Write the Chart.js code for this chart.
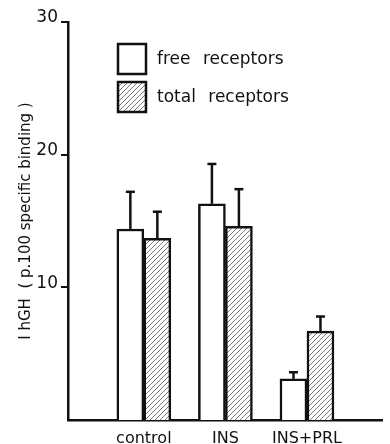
<!DOCTYPE html>
<html>
<head>
<meta charset="utf-8">
<script src="https://cdn.jsdelivr.net/npm/chart.js@4.4.1/dist/chart.umd.min.js"></script>
<style>
  html, body { margin: 0; padding: 0; background: #fff; }
</style>
</head>
<body>
<canvas id="bindingChart" width="390" height="444"></canvas>
<script>
// Treatment groups, placed at 1, 2, 3 on the x axis
const groups = ["control", "INS", "INS+PRL"];
const groupPos = [1, 2, 3];
// Mean binding (p.100 specific binding)
const freeReceptors = [14.4, 16.3, 3.1];
const totalReceptors = [13.7, 14.6, 6.7];
// Height of the error bar above each mean
const freeError = [2.8, 3.0, 0.5];
const totalError = [2.0, 2.8, 1.1];
// Labelled ticks on the y axis
const yTicks = [10, 20, 30];

const ink = "#111";

// Diagonal hatching for the total receptors bars
function makeHatch() {
  const c = document.createElement("canvas");
  c.width = 5; c.height = 5;
  const g = c.getContext("2d");
  g.fillStyle = "#fff";
  g.fillRect(0, 0, 5, 5);
  g.strokeStyle = "#7a7a7a";
  g.lineWidth = 1;
  g.beginPath();
  g.moveTo(0, 5); g.lineTo(5, 0);
  g.moveTo(-1, 1); g.lineTo(1, -1);
  g.moveTo(4, 6); g.lineTo(6, 4);
  g.stroke();
  return g.createPattern(c, "repeat");
}

// Error bars: a stem from the bar top up to a short cap
const errorBars = {
  id: "errorBars",
  afterDatasetsDraw(chart) {
    const ctx = chart.ctx;
    const y = chart.scales.y;
    const errs = [freeError, totalError];
    ctx.save();
    ctx.strokeStyle = ink;
    chart.data.datasets.forEach((ds, di) => {
      chart.getDatasetMeta(di).data.forEach((bar, i) => {
        const top = y.getPixelForValue(ds.data[i].y + errs[di][i]);
        ctx.lineWidth = 2.5;
        ctx.beginPath();
        ctx.moveTo(bar.x, bar.y);
        ctx.lineTo(bar.x, top);
        ctx.stroke();
        ctx.lineWidth = 2.5;
        ctx.beginPath();
        ctx.moveTo(bar.x - 4.5, top);
        ctx.lineTo(bar.x + 4.5, top);
        ctx.stroke();
      });
    });
    ctx.restore();
  }
};

// Legend drawn inside the plot, boxes stacked under each other
const boxLegend = {
  id: "boxLegend",
  afterDraw(chart) {
    const ctx = chart.ctx;
    const a = chart.chartArea;
    ctx.save();
    chart.data.datasets.forEach((ds, i) => {
      const bx = a.left + 50;
      const by = a.top + 22 + i * 38;
      ctx.fillStyle = ds.backgroundColor;
      ctx.fillRect(bx, by, 28, 30);
      ctx.lineWidth = 2.5;
      ctx.strokeStyle = ink;
      ctx.strokeRect(bx, by, 28, 30);
      ctx.fillStyle = ink;
      ctx.font = "17px 'DejaVu Sans'";
      ctx.textBaseline = "middle";
      ctx.wordSpacing = "7px";
      ctx.fillText(ds.label, bx + 39, by + 16);
    });
    ctx.restore();
  }
};

const ctx = document.getElementById("bindingChart").getContext("2d");
new Chart(ctx, {
  type: "bar",
  data: {
    datasets: [
      {
        label: "free receptors",
        data: groupPos.map((x, i) => ({ x: x, y: freeReceptors[i] })),
        backgroundColor: "#fff",
        borderColor: ink,
        borderWidth: 2.5,
        barThickness: 27
      },
      {
        label: "total receptors",
        data: groupPos.map((x, i) => ({ x: x, y: totalReceptors[i] })),
        backgroundColor: makeHatch(),
        borderColor: ink,
        borderWidth: 2.5,
        barThickness: 27
      }
    ]
  },
  options: {
    responsive: false,
    animation: false,
    devicePixelRatio: 1,
    layout: { padding: { left: 0, top: 22, right: 8, bottom: 0 } },
    plugins: {
      legend: { display: false },
      tooltip: { enabled: false }
    },
    scales: {
      x: {
        type: "linear",
        offset: false,
        min: 0.07,
        max: 3.92,
        afterBuildTicks: (s) => { s.ticks = groupPos.map(v => ({ value: v })); },
        afterFit: (s) => { s.height = 24; },
        grid: { display: false, offset: false },
        border: { display: true, color: ink, width: 2.5 },
        ticks: {
          padding: 1,
          color: ink,
          font: { family: "DejaVu Sans", size: 16 },
          callback: (v) => groups[groupPos.indexOf(v)]
        }
      },
      y: {
        min: 0,
        max: 30,
        afterBuildTicks: (s) => { s.ticks = yTicks.map(v => ({ value: v })); },
        afterFit: (s) => { s.width = 68; },
        grid: { drawOnChartArea: false, drawTicks: true, tickLength: 7, color: ink, lineWidth: 2 },
        border: { display: true, color: ink, width: 2.5 },
        ticks: {
          padding: 3,
          labelOffset: -4,
          color: ink,
          font: { family: "DejaVu Sans", size: 17 }
        },
        title: {
          display: true,
          text: "I hGH  ( p.100 specific binding )",
          color: ink,
          font: { family: "DejaVu Sans", size: 15 },
          padding: { top: 17, bottom: 0 }
        }
      }
    }
  },
  plugins: [errorBars, boxLegend]
});
</script>
</body>
</html>
